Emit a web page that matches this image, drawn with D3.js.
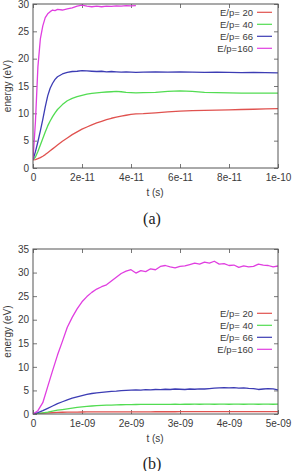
<!DOCTYPE html>
<html><head><meta charset="utf-8">
<script src="https://cdn.jsdelivr.net/npm/d3@7"></script>
<style>
html,body{margin:0;padding:0;background:#fff;}
svg{display:block;}
text{font-family:"Liberation Sans",Arial,sans-serif;}
</style></head>
<body>
<script>
// ---------- DATA ----------
const seriesNames = ["E/p= 20", "E/p= 40", "E/p= 66", "E/p=160"];
const seriesColors = ["#e0524f", "#52dc52", "#3c3cb4", "#e03ee0"];

// Panel (a): time in units of 1e-11 s
const timesA = [0,0.1,0.2,0.3,0.4,0.5,0.6,0.7,0.8,0.9,1.0,1.2,1.4,1.6,1.8,2.0,2.2,2.4,2.6,2.8,3.0,3.2,3.4,3.6,3.8,4.0,4.2,4.5,5,5.5,6,6.5,7,7.5,8,8.5,9,9.5,10];
const redA   = [1.5,1.55,1.7,1.9,2.15,2.45,2.8,3.15,3.5,3.85,4.2,4.9,5.5,6.1,6.6,7.1,7.5,7.9,8.25,8.55,8.85,9.1,9.3,9.5,9.65,9.8,9.9,9.95,10.1,10.25,10.4,10.5,10.55,10.6,10.65,10.7,10.75,10.8,10.85];
const greenA = [1.5,2.0,3.0,4.2,5.4,6.6,7.7,8.6,9.4,10.1,10.7,11.6,12.3,12.75,13.05,13.3,13.5,13.65,13.75,13.85,13.9,13.95,14.0,13.95,13.85,13.8,13.75,13.8,13.85,14.0,14.1,14.0,13.85,13.8,13.75,13.7,13.7,13.7,13.7];
const blueA  = [1.5,3.0,4.8,6.8,8.9,11.2,13.2,14.6,15.5,16.2,16.7,17.2,17.5,17.65,17.7,17.8,17.75,17.7,17.65,17.7,17.6,17.65,17.6,17.55,17.6,17.55,17.5,17.55,17.6,17.55,17.6,17.55,17.5,17.55,17.5,17.45,17.5,17.45,17.4];
const magA   = [1.5,8.5,18.5,23.6,26.0,27.5,28.2,28.6,28.9,28.8,29.0,28.9,29.1,29.3,29.6,29.8,29.6,29.5,29.6,29.5,29.6,29.55,29.65,29.6,29.7,29.65,29.7];

// Panel (b): time in units of 1e-9 s
const timesB = [0,0.1,0.2,0.3,0.4,0.5,0.6,0.7,0.8,0.9,1.0,1.1,1.2,1.3,1.4,1.5,1.6,1.7,1.8,1.9,2.0,2.1,2.2,2.3,2.4,2.5,2.6,2.7,2.8,2.9,3.0,3.1,3.2,3.3,3.4,3.5,3.6,3.7,3.8,3.9,4.0,4.1,4.2,4.3,4.4,4.5,4.6,4.7,4.8,4.9,5.0];
const redB   = [0,0.1,0.18,0.25,0.3,0.34,0.37,0.39,0.4,0.41,0.42,0.43,0.43,0.44,0.44,0.45,0.45,0.45,0.46,0.46,0.46,0.47,0.47,0.47,0.47,0.48,0.48,0.48,0.48,0.48,0.49,0.49,0.49,0.49,0.49,0.5,0.5,0.5,0.5,0.5,0.5,0.5,0.5,0.5,0.5,0.5,0.5,0.5,0.5,0.5,0.5];
const greenB = [0,0.1,0.25,0.4,0.6,0.8,0.95,1.1,1.25,1.4,1.5,1.6,1.7,1.76,1.82,1.87,1.9,1.93,1.96,1.98,2.0,2.02,2.03,2.04,2.05,2.05,2.06,2.05,2.06,2.07,2.06,2.07,2.07,2.08,2.07,2.08,2.08,2.07,2.08,2.08,2.07,2.08,2.08,2.07,2.08,2.08,2.07,2.08,2.08,2.07,2.08];
const blueB  = [0,0.3,0.7,1.2,1.7,2.2,2.6,3.0,3.35,3.65,3.9,4.15,4.35,4.5,4.6,4.7,4.8,4.85,4.95,5.0,5.05,5.1,5.05,5.15,5.1,5.2,5.15,5.25,5.2,5.3,5.25,5.2,5.3,5.25,5.35,5.3,5.4,5.5,5.55,5.6,5.55,5.6,5.5,5.55,5.45,5.4,5.2,5.3,5.4,5.35,5.1];
const magB   = [0,0.7,2.4,5.8,9.2,12.5,15.4,18.4,20.5,22.3,23.8,24.9,25.8,26.5,27.0,27.4,28.2,29.0,29.8,30.3,30.6,29.9,30.4,30.2,30.8,30.6,31.3,31.5,31.2,31.0,31.3,31.4,31.7,32.0,31.8,32.2,32.0,32.4,31.8,31.9,31.5,31.6,31.1,31.4,31.2,31.3,31.8,31.6,31.5,31.2,31.4];

const xTicksA = [0,2,4,6,8,10];
const xTickLabelsA = ["0","2e-11","4e-11","6e-11","8e-11","1e-10"];
const yTicksA = [0,5,10,15,20,25,30];
const xTicksB = [0,1,2,3,4,5];
const xTickLabelsB = ["0","1e-09","2e-09","3e-09","4e-09","5e-09"];
const yTicksB = [0,5,10,15,20,25,30,35];

// ---------- DRAW ----------
const W = 296, H = 471;
const svg = d3.select("body").append("svg").attr("width", W).attr("height", H);
const textCol = "#3a3a3a";

function panel(cfg){
  const x = d3.scaleLinear().domain(cfg.xDomain).range([33, 278]);
  const y = d3.scaleLinear().domain(cfg.yDomain).range([cfg.bottom, cfg.top]);
  const g = svg.append("g");
  const tickLen = 4;

  const bottomAxis = d3.axisBottom(x).tickValues(cfg.xTicks).tickSize(-tickLen).tickPadding(6)
      .tickFormat((d,i)=>cfg.xLabels[i]);
  const topAxis = d3.axisTop(x).tickValues(cfg.xTicks).tickSize(-tickLen).tickFormat("");
  const leftAxis = d3.axisLeft(y).tickValues(cfg.yTicks).tickSize(-tickLen).tickPadding(4);
  const rightAxis = d3.axisRight(y).tickValues(cfg.yTicks).tickSize(-tickLen).tickFormat("");

  const style = sel => {
    sel.select(".domain").remove();
    sel.selectAll("line").attr("stroke", "#777");
    sel.selectAll("text").attr("fill", textCol).style("font-size", "10px")
      .style("font-family", '"Liberation Sans",Arial,sans-serif');
  };
  g.append("g").attr("transform", `translate(0,${cfg.bottom})`).call(bottomAxis).call(style);
  g.append("g").attr("transform", `translate(0,${cfg.top})`).call(topAxis).call(style);
  g.append("g").attr("transform", `translate(33,0)`).call(leftAxis).call(style);
  g.append("g").attr("transform", `translate(278,0)`).call(rightAxis).call(style);

  const clipId = "clip" + cfg.id;
  svg.append("clipPath").attr("id", clipId).append("rect")
    .attr("x", 33).attr("y", cfg.top).attr("width", 245).attr("height", cfg.bottom - cfg.top);
  const line = d3.line().x(d => x(d[0])).y(d => y(d[1]));
  cfg.series.forEach((vals, i) => {
    const pts = vals.map((v, k) => [cfg.times[k], v]);
    g.append("path").attr("d", line(pts)).attr("fill", "none")
      .attr("stroke", seriesColors[i]).attr("stroke-width", 1.3)
      .attr("stroke-linejoin", "round")
      .attr("clip-path", `url(#${clipId})`);
  });

  g.append("rect").attr("x", 33).attr("y", cfg.top).attr("width", 245)
    .attr("height", cfg.bottom - cfg.top).attr("fill", "none")
    .attr("stroke", "#555").attr("stroke-width", 1);

  seriesNames.forEach((name, i) => {
    const ly = cfg.legendY + i * 12;
    g.append("text").attr("x", 253).attr("y", ly + 3.5).attr("text-anchor", "end")
      .attr("fill", textCol).style("font-size", "9.5px").text(name);
    g.append("line").attr("x1", 257).attr("x2", 272).attr("y1", ly).attr("y2", ly)
      .attr("stroke", seriesColors[i]).attr("stroke-width", 1.2);
  });

  g.append("text").attr("x", 155).attr("y", cfg.bottom + 28).attr("text-anchor", "middle")
    .attr("fill", textCol).style("font-size", "10px").text("t (s)");
  const cy = (cfg.top + cfg.bottom) / 2;
  g.append("text").attr("transform", `translate(11,${cy}) rotate(-90)`).attr("text-anchor", "middle")
    .attr("fill", textCol).style("font-size", "10px").text("energy (eV)");
  g.append("text").attr("x", 152).attr("y", cfg.captionY).attr("text-anchor", "middle")
    .attr("fill", "#222").style("font-size", "16px")
    .style("font-family", '"Liberation Serif","Times New Roman",serif').text(cfg.caption);
}

panel({id:"a", xDomain:[0,10], yDomain:[0,30], top:4, bottom:168,
  times: timesA, series:[redA, greenA, blueA, magA],
  xTicks: xTicksA, xLabels: xTickLabelsA, yTicks: yTicksA,
  legendY: 12.3, caption:"(a)", captionY: 223.5});

panel({id:"b", xDomain:[0,5], yDomain:[0,35], top:249, bottom:414,
  times: timesB, series:[redB, greenB, blueB, magB],
  xTicks: xTicksB, xLabels: xTickLabelsB, yTicks: yTicksB,
  legendY: 313.3, caption:"(b)", captionY: 469});
</script>
</body></html>
